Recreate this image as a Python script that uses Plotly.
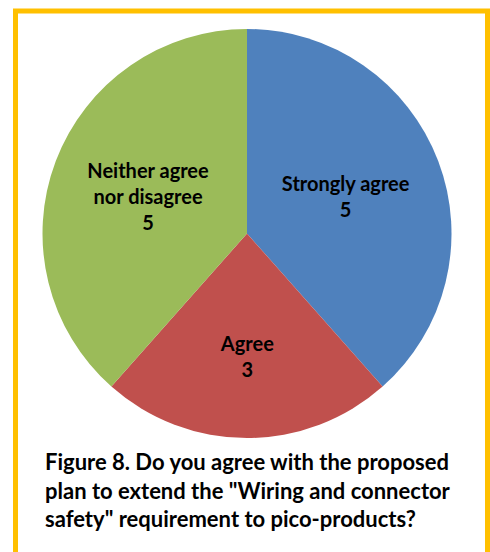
import plotly.graph_objects as go

categories = ["Strongly agree", "Agree", "Neither agree<br>nor disagree"]
values = [5, 3, 5]
colors = ["#4F81BD", "#C0504D", "#9BBB59"]
title_lines = [
    "Figure 8. Do you agree with the proposed",
    "plan to extend the \"Wiring and connector",
    "safety\" requirement to pico-products?",
]

fig = go.Figure()
fig.add_trace(go.Pie(
    labels=categories,
    values=values,
    marker=dict(colors=colors, line=dict(width=0)),
    sort=False,
    direction="clockwise",
    rotation=0,
    texttemplate="%{label}<br>%{value}",
    textposition="inside",
    insidetextorientation="horizontal",
    textfont=dict(family="Lato, Open Sans, sans-serif", size=20, color="black", weight="bold"),
    domain=dict(x=[42/490, 452/490], y=[1-438/552, 1-29/552]),
    showlegend=False,
    hoverinfo="label+value",
))

fig.add_shape(type="rect", xref="paper", yref="paper",
              x0=15.5/490, x1=487.5/490, y0=-0.05, y1=1-11/552,
              line=dict(color="#FFC000", width=5))

fig.add_annotation(
    xref="paper", yref="paper", x=43/490, y=1-446/552,
    xanchor="left", yanchor="top", align="left", showarrow=False,
    text="<br>".join(title_lines),
    font=dict(family="Lato, Open Sans, sans-serif", size=22, color="black", weight="bold"),
)

fig.update_layout(
    width=490, height=552,
    margin=dict(l=0, r=0, t=0, b=0),
    paper_bgcolor="white",
    plot_bgcolor="white",
)

fig.write_html("out.html")
